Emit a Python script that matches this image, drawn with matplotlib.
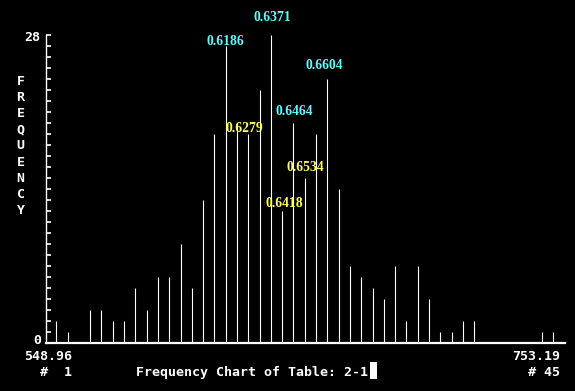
import numpy as np
import matplotlib
matplotlib.use('Agg')
import matplotlib.pyplot as plt
from matplotlib.patches import Rectangle

# ── Data ──────────────────────────────────────────────────────
bins = np.arange(45)                 # "# 1" .. "# 45"
freq = [2, 1, 0, 3, 3, 2, 2, 5, 3, 6,
        6, 9, 5, 13, 19, 27, 20, 19, 23, 28,
        12, 20, 15, 19, 24, 14, 7, 6, 5, 4,
        7, 2, 7, 4, 1, 1, 2, 2, 0, 0,
        0, 0, 0, 1, 1]
x_min_label = '548.96'
x_max_label = '753.19'
y_max = 28

label_text = ['0.6186', '0.6371', '0.6604', '0.6464', '0.6279', '0.6534', '0.6418']
label_bin = [14.98, 19.1, 23.7, 21.07, 16.66, 22.05, 20.2]
label_level = [27.4, 29.6, 25.2, 21.06, 19.5, 15.97, 12.7]
label_color = ['cyan', 'cyan', 'cyan', 'cyan', 'yellow', 'yellow', 'yellow']

PAL = {'cyan': '#55FFFF', 'yellow': '#FFFF55', 'fg': 'white', 'bg': 'black'}
W, H = 575, 391
MONO = 'DejaVu Sans Mono'


def fpos(x, y):
    # pixel position (from top-left) -> figure fraction
    return x / W, 1 - y / H


fig = plt.figure(figsize=(W / 100, H / 100), dpi=100, facecolor=PAL['bg'])
ax = fig.add_axes([46 / W, (H - 343) / H, (565 - 46) / W, (343 - 35) / H])
ax.set_facecolor(PAL['bg'])

f = np.array(freq)
nz = f > 0
ax.vlines(bins[nz], 0, f[nz], color=PAL['fg'], lw=0.8)

ax.set_xlim(-0.912, 45.04)
ax.set_ylim(0, y_max)
for side in ['top', 'right']:
    ax.spines[side].set_visible(False)
ax.spines['left'].set_color(PAL['fg'])
ax.spines['left'].set_linewidth(1.0)
ax.spines['bottom'].set_color(PAL['fg'])
ax.spines['bottom'].set_linewidth(1.6)
ax.set_xticks([])
ax.set_yticks(range(1, y_max + 1))
ax.tick_params(axis='y', direction='in', length=3.8, width=1.2,
               colors=PAL['fg'], labelleft=False)

# value labels above the peaks
for t, b, lv, c in zip(label_text, label_bin, label_level, label_color):
    ax.text(b, lv, t, color=PAL[c], ha='center', va='center',
            family='Liberation Serif', fontweight='bold', fontsize=9.8,
            clip_on=False)

# axis texts
txt = dict(color=PAL['fg'], family=MONO, fontweight='bold', fontsize=9.5)
fig.text(*fpos(40, 41), str(y_max), ha='right', va='baseline', **txt)
fig.text(*fpos(41, 344), '0', ha='right', va='baseline', **txt)
fig.text(*fpos(72, 360.5), x_min_label, ha='right', va='baseline', **txt)
fig.text(*fpos(72, 376.5), '#  1', ha='right', va='baseline', **txt)
fig.text(*fpos(560, 360.5), x_max_label, ha='right', va='baseline', **txt)
fig.text(*fpos(560, 376.5), '# %d' % len(bins), ha='right', va='baseline', **txt)
fig.text(*fpos(136, 376), 'Frequency Chart of Table: 2-1',
         ha='left', va='baseline', **txt)

# blinking DOS cursor
cx, cy = fpos(369.5, 379)
fig.patches.append(Rectangle((cx, cy), 7.5 / W, 17 / H, transform=fig.transFigure,
                             facecolor=PAL['fg'], edgecolor='none'))

# vertical "FREQUENCY" label
for i, ch in enumerate('FREQUENCY'):
    fig.text(*fpos(20.5, 81.5 + i * 16.1), ch, ha='center', va='center', **txt)

fig.savefig('out.png', dpi=100, facecolor=PAL['bg'])
